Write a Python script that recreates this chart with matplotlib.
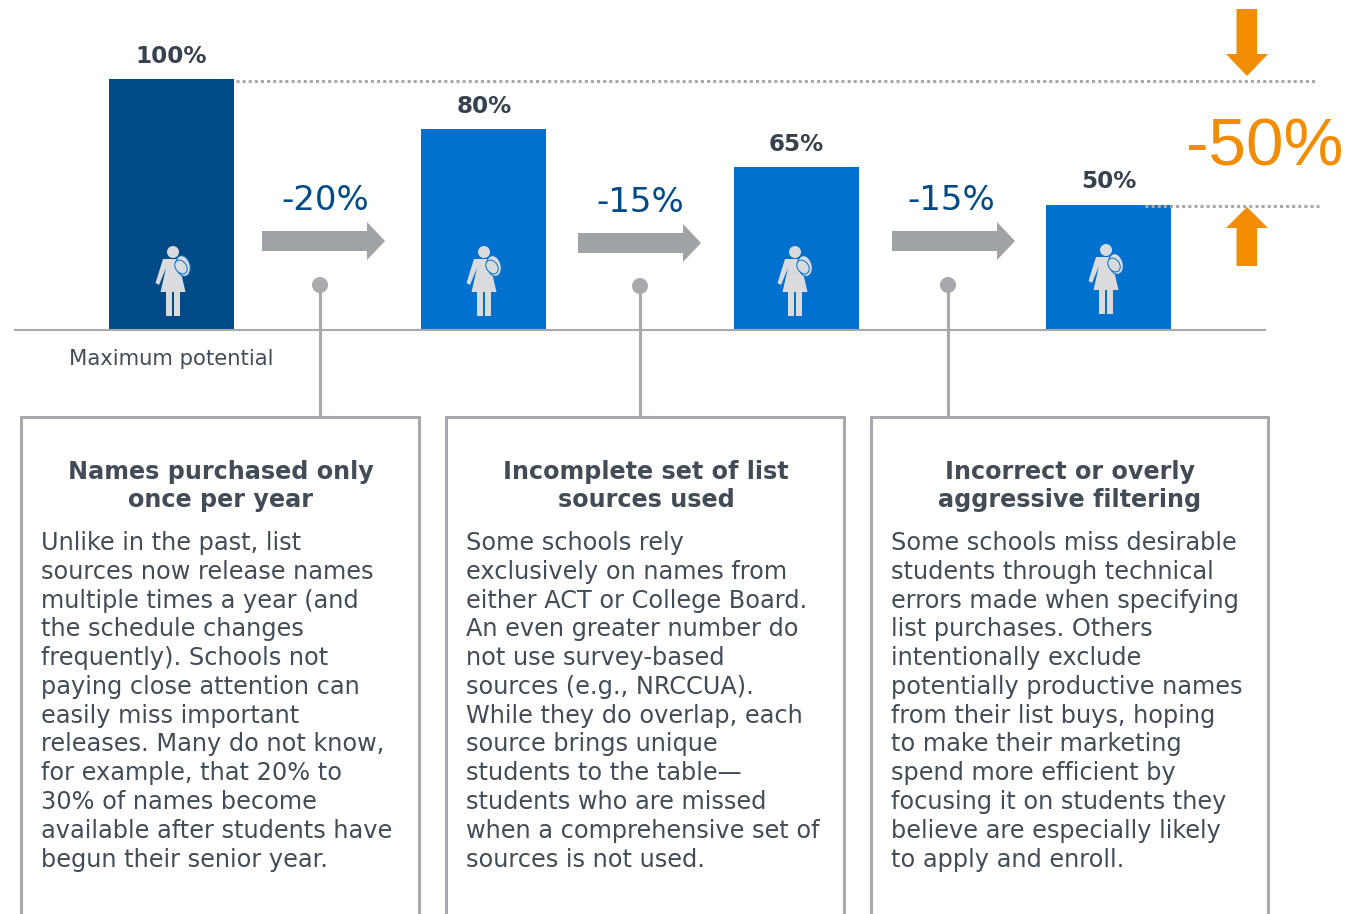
import matplotlib
matplotlib.use('Agg')
import matplotlib.pyplot as plt
from matplotlib.patches import Circle, Ellipse, Polygon, Rectangle

# Values
stages = ['Maximum potential', '', '', '']
shares = [100, 80, 65, 50]
share_labels = ['100%', '80%', '65%', '50%']
drops = ['-20%', '-15%', '-15%']
total_drop = '-50%'

titles = [
    ['Names purchased only', 'once per year'],
    ['Incomplete set of list', 'sources used'],
    ['Incorrect or overly', 'aggressive filtering'],
]
bodies = [
    ['Unlike in the past, list', 'sources now release names', 'multiple times a year (and',
     'the schedule changes', 'frequently). Schools not', 'paying close attention can',
     'easily miss important', 'releases. Many do not know,', 'for example, that 20% to',
     '30% of names become', 'available after students have', 'begun their senior year.'],
    ['Some schools rely', 'exclusively on names from', 'either ACT or College Board.',
     'An even greater number do', 'not use survey-based', 'sources (e.g., NRCCUA).',
     'While they do overlap, each', 'source brings unique', 'students to the table\u2014',
     'students who are missed', 'when a comprehensive set of', 'sources is not used.'],
    ['Some schools miss desirable', 'students through technical', 'errors made when specifying',
     'list purchases. Others', 'intentionally exclude', 'potentially productive names',
     'from their list buys, hoping', 'to make their marketing', 'spend more efficient by',
     'focusing it on students they', 'believe are especially likely', 'to apply and enroll.'],
]

# Colours
DARK_BLUE = '#004a87'
BLUE = '#0071ce'
GREY = '#a7a9ac'
ARROW_GREY = '#a0a3a6'
ORANGE = '#f28c00'
LABEL = '#36424d'
TEXT = '#414c56'
ICON = '#d9dbde'

W, H = 1359, 914
fig = plt.figure(figsize=(W / 100, H / 100), dpi=100, facecolor='white')

# Bar chart, baseline at y=330 and full height 251 px
ax = fig.add_axes([15 / W, 1 - 330 / H, 1250 / W, 251 / H])
colors = [DARK_BLUE, BLUE, BLUE, BLUE]
ax.bar(range(4), shares, width=0.4, color=colors, linewidth=0)
ax.set_xlim(-0.5, 3.5)
ax.set_ylim(0, 100)
ax.patch.set_visible(False)
for s in ['top', 'left', 'right']:
    ax.spines[s].set_visible(False)
ax.spines['bottom'].set_color(GREY)
ax.spines['bottom'].set_linewidth(1.5)
ax.set_yticks([])
ax.set_xticks(range(4))
ax.set_xticklabels(stages, fontsize=15.2, color=TEXT)
ax.tick_params(axis='x', length=0, pad=13.5)
for i, v in enumerate(shares):
    ax.annotate(share_labels[i], (i, v), xytext=(0, 11), textcoords='offset pixels',
                ha='center', va='bottom', fontsize=16.6, fontweight='bold', color=LABEL,
                annotation_clip=False)

# Overlay in pixel coordinates for the arrows, callouts and text
ov = fig.add_axes([0, 0, 1, 1], zorder=5)
ov.set_xlim(0, W)
ov.set_ylim(H, 0)
ov.axis('off')


def right_arrow(x0, yc):
    pts = [(x0, yc - 10), (x0 + 105, yc - 10), (x0 + 105, yc - 19), (x0 + 123, yc),
           (x0 + 105, yc + 19), (x0 + 105, yc + 10), (x0, yc + 10)]
    ov.add_patch(Polygon(pts, closed=True, fc=ARROW_GREY, ec='none'))


def person(x, y):
    # x, y is the centre of the head
    ov.add_patch(Circle((x, y), 6, fc=ICON, ec='none'))
    body = [(-10, 7), (-17.5, 31), (-14, 33), (-7, 16), (-12.5, 40), (12.5, 40),
            (7, 16), (10, 7)]
    ov.add_patch(Polygon([(x + a, y + b) for a, b in body], closed=True, fc=ICON, ec='none'))
    ov.add_patch(Rectangle((x - 7.5, y + 38), 6.5, 26, fc=ICON, ec='none'))
    ov.add_patch(Rectangle((x + 0.8, y + 38), 6.5, 26, fc=ICON, ec='none'))
    ov.add_patch(Ellipse((x + 10, y + 14), 14, 21, angle=-15, fc=ICON, ec=BLUE, lw=0.7))
    ov.add_patch(Ellipse((x + 8, y + 15), 11, 15, angle=-35, fc=ICON, ec=BLUE, lw=0.7))


for x, y in zip([173, 484, 795, 1106], [252, 252, 252, 250]):
    person(x, y)

for label, x0, yc, tx, ty in zip(drops, [262, 578, 892], [241, 243, 241],
                                 [325, 640, 951], [201, 202, 201]):
    right_arrow(x0, yc)
    ov.text(tx, ty, label, ha='center', va='center', fontsize=24.5, color=DARK_BLUE)

# Callout boxes run off the bottom edge
for left, right in [(21, 419), (446, 844), (871, 1268)]:
    ov.plot([left, left, right, right], [H + 5, 416.5, 416.5, H + 5], color=GREY, lw=2.2,
            solid_joinstyle='miter')

for x, y in zip([320, 640, 948], [285, 286, 285]):
    ov.plot([x, x], [y, 416], color=GREY, lw=2.2)
    ov.add_patch(Circle((x, y), 8, fc=GREY, ec='none'))

# Dotted reference lines and the overall drop
ov.plot([236, 1316], [81, 81], color=GREY, lw=2.2, ls=(0, (1, 1)))
ov.plot([1145, 1319], [206, 206], color=GREY, lw=2.2, ls=(0, (1, 1)))
down = [(1236.5, 9), (1257, 9), (1257, 54), (1268, 54), (1247, 76), (1226, 54), (1236.5, 54)]
up = [(1236.5, 266), (1257, 266), (1257, 228), (1268, 228), (1247, 207), (1226, 228), (1236.5, 228)]
ov.add_patch(Polygon(down, closed=True, fc=ORANGE, ec='none'))
ov.add_patch(Polygon(up, closed=True, fc=ORANGE, ec='none'))
ov.text(1265, 149, total_drop, ha='center', va='center', fontsize=48.5,
        family='Liberation Sans', color=ORANGE)

# Box text
for center, left, title, body in zip([221, 646, 1070], [41, 466, 891], titles, bodies):
    for n, line in enumerate(title):
        ov.text(center, 472 + n * 28, line, ha='center', va='center', fontsize=17.2,
                fontweight='bold', color=TEXT)
    for n, line in enumerate(body):
        ov.text(left, 550 + n * 28.78, line, ha='left', va='baseline', fontsize=17.3, color=TEXT)

fig.savefig('out.png', dpi=100)
